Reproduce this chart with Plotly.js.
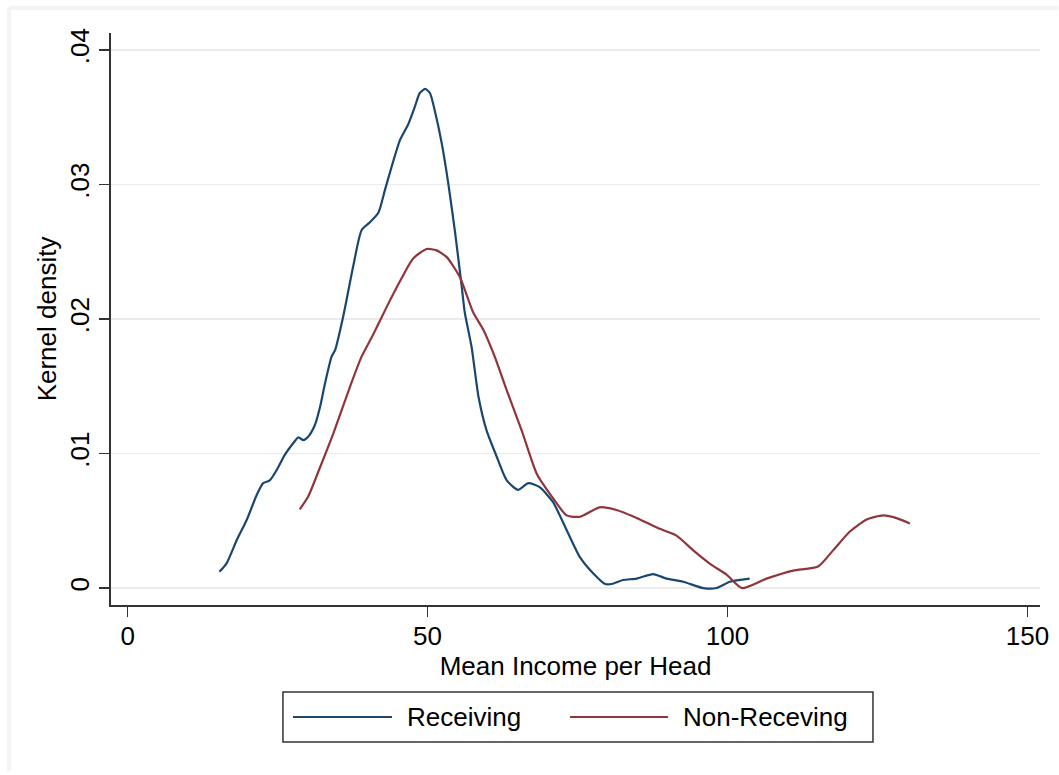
<!DOCTYPE html>
<html>
<head>
<meta charset="utf-8">
<script src="https://cdn.plot.ly/plotly-3.0.1.min.js"></script>
<style>html,body{margin:0;padding:0;background:#fff;}#chart{width:1059px;height:775px;}</style>
</head>
<body>
<div id="chart"></div>
<script>
// Receiving
const recX = [15.3,16.5,18.2,19.85,21.5,22.6,23.7,24.85,26.2,27.6,28.45,29.3,30.1,31.2,32.1,32.9,34.0,34.6,35.95,37.6,39.0,40.4,41.8,42.9,44.0,45.4,46.8,47.9,48.7,49.6,50.4,51.2,52.35,53.45,54.6,55.7,56.2,57.35,58.5,59.85,61.5,63.2,65.1,66.8,68.7,70.9,73.2,75.4,77.6,79.6,80.7,82.6,84.85,87.6,89.85,92.6,95.95,98.2,100.4,103.7];
const recY = [0.00121,0.00184,0.00357,0.00506,0.0069,0.0078,0.0080,0.00877,0.0099,0.01076,0.0112,0.0110,0.01125,0.0121,0.0135,0.0152,0.0172,0.0177,0.0202,0.0239,0.0266,0.0272,0.0279,0.0296,0.0313,0.0333,0.0345,0.0358,0.0368,0.0371,0.0368,0.0355,0.0331,0.0301,0.0264,0.0224,0.0205,0.0179,0.0142,0.0117,0.0098,0.0080,0.0073,0.0078,0.0075,0.0064,0.0043,0.0023,0.0011,0.0003,0.0003,0.0006,0.0007,0.00104,0.0007,0.00047,0.0,0.0,0.00047,0.0007];
// Non-Receving
const nonX = [28.7,30.1,32.1,34.3,37.1,39.0,41.0,43.2,45.4,47.6,49.85,51.5,53.2,55.4,57.6,59.3,61.2,63.2,65.7,68.2,70.4,73.2,75.4,78.7,81.5,85.4,88.7,91.5,94.3,97.1,99.85,102.4,106.5,110.95,115.1,117.6,120.4,123.2,125.95,128.2,130.4];
const nonY = [0.00585,0.0068,0.0090,0.0115,0.0150,0.0172,0.0189,0.0209,0.0228,0.0245,0.0252,0.0251,0.0246,0.0231,0.0205,0.0192,0.0172,0.0147,0.0117,0.0085,0.0070,0.0054,0.0053,0.0060,0.0058,0.0051,0.0044,0.0039,0.0028,0.0018,0.0010,0.0,0.0007,0.0013,0.0016,0.0028,0.0042,0.0051,0.0054,0.0052,0.0048];

const seriesNames = ["Receiving", "Non-Receving"];
const seriesColors = ["#1a476f", "#90353b"];
const xTickVals = [0, 50, 100, 150];
const xTickText = ["0", "50", "100", "150"];
const yTickVals = [0, 0.01, 0.02, 0.03, 0.04];
const yTickText = ["0", ".01", ".02", ".03", ".04"];
const xTitle = "Mean Income per Head";
const yTitle = "Kernel density";

const FONT = "Liberation Sans, Arial, sans-serif";
const traces = [
  {x: recX, y: recY, mode: "lines", name: seriesNames[0], line: {color: seriesColors[0], width: 2.2, shape: "spline", smoothing: 0.6}},
  {x: nonX, y: nonY, mode: "lines", name: seriesNames[1], line: {color: seriesColors[1], width: 2.2, shape: "spline", smoothing: 0.6}}
];

// custom legend (box + line samples + labels) in paper coordinates, plus faint outer frame
const shapes = [
  {type: "line", xref: "paper", yref: "paper", x0: -0.1098, x1: -0.1098, y0: -0.29, y1: 1.0437, line: {color: "#f4f4f4", width: 4}},
  {type: "line", xref: "paper", yref: "paper", x0: -0.1098, x1: 1.02, y0: 1.0437, y1: 1.0437, line: {color: "#f4f4f4", width: 4}},
  {type: "rect", xref: "paper", yref: "paper", x0: 0.1851, x1: 0.8202, y0: -0.2395, y1: -0.1521, line: {color: "#333", width: 1.5}, fillcolor: "rgba(0,0,0,0)"},
  {type: "line", xref: "paper", yref: "paper", x0: 0.1959, x1: 0.3025, y0: -0.1958, y1: -0.1958, line: {color: seriesColors[0], width: 2.2}},
  {type: "line", xref: "paper", yref: "paper", x0: 0.4941, x1: 0.5996, y0: -0.1958, y1: -0.1958, line: {color: seriesColors[1], width: 2.2}}
];
const annotations = [
  {xref: "paper", yref: "paper", x: 0.3165, y: -0.1958, xanchor: "left", yanchor: "middle", text: seriesNames[0], showarrow: false, font: {family: FONT, size: 26, color: "#000"}},
  {xref: "paper", yref: "paper", x: 0.614, y: -0.1958, xanchor: "left", yanchor: "middle", text: seriesNames[1], showarrow: false, font: {family: FONT, size: 26, color: "#000"}}
];

const layout = {
  width: 1059, height: 775,
  margin: {l: 111, r: 19, t: 33, b: 170},
  paper_bgcolor: "#fff", plot_bgcolor: "#fff",
  showlegend: false,
  font: {family: FONT, size: 26, color: "#000"},
  xaxis: {
    range: [-2.77, 152.1], tickvals: xTickVals, ticktext: xTickText,
    ticks: "outside", ticklen: 10, tickwidth: 1.5, tickcolor: "#333",
    showline: true, linecolor: "#333", linewidth: 2, showgrid: false, zeroline: false,
    tickfont: {family: FONT, size: 26, color: "#000"}, ticklabelstandoff: -3,
    title: {text: xTitle, font: {family: FONT, size: 26, color: "#000"}, standoff: 0}
  },
  yaxis: {
    range: [-0.00126, 0.04126], tickvals: yTickVals, ticktext: yTickText,
    ticks: "outside", ticklen: 10, tickwidth: 1.5, tickcolor: "#333", tickangle: -90,
    showline: true, linecolor: "#333", linewidth: 2, showgrid: true, gridcolor: "#ebebeb", gridwidth: 1.5, zeroline: false,
    tickfont: {family: FONT, size: 26, color: "#000"},
    title: {text: yTitle, font: {family: FONT, size: 26, color: "#000"}, standoff: 0}
  },
  shapes: shapes,
  annotations: annotations
};
Plotly.newPlot("chart", traces, layout, {displayModeBar: false, staticPlot: true});
</script>
</body>
</html>
